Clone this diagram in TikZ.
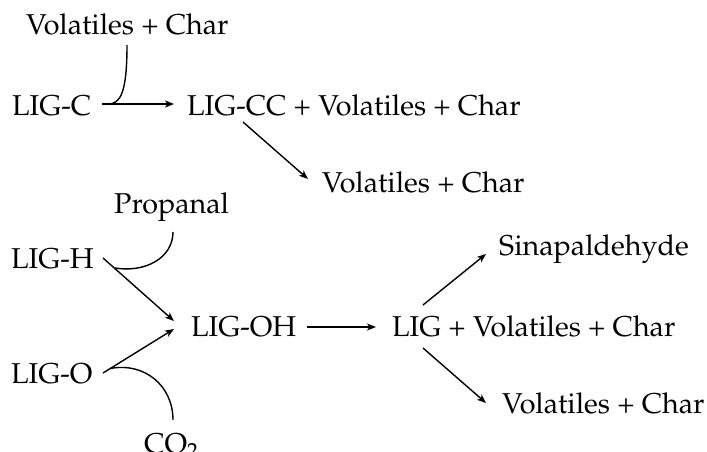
\documentclass[tikz,border=0pt]{standalone}
\usepackage[T1]{fontenc}
\usepackage{mathpazo}
\usetikzlibrary{arrows.meta}
\tikzset{
  species/.style={anchor=base west, inner sep=0pt, font=\fontsize{28.7}{34}\selectfont},
  rxn/.style={line width=1.4pt, -{Stealth[length=9pt,width=7pt,inset=2.5pt]}},
  side/.style={line width=1.4pt},
}
\begin{document}
\begin{tikzpicture}[x=1pt,y=-1pt]
\useasboundingbox (0,0) rectangle (707,452);

% upper pathway
\node[species] (vc1) at (26,35) {Volatiles + Char};
\node[species] (ligc) at (12,115) {LIG-C};
\node[species] (ligcc) at (187,115) {LIG-CC + Volatiles + Char};
\node[species] (vc2) at (322,192) {Volatiles + Char};

\coordinate (c1s) at (102,104);
\coordinate (c1e) at (174,104);
\coordinate (c1j) at (108,104);
\coordinate (vc1b) at (127,45);
\coordinate (c2s) at (243,122);
\coordinate (c2e) at (308,179);

\draw[rxn] (c1s) -- (c1e);
\draw[side] (vc1b) .. controls (127,94) and (120,104) .. (c1j);
\draw[rxn] (c2s) -- (c2e);

% lower pathway
\node[species] (prop) at (114,213) {Propanal};
\node[species] (ligh) at (11,268) {LIG-H};
\node[species] (ligoh) at (191,336) {LIG-OH};
\node[species] (ligo) at (11,383) {LIG-O};
\node[species] (co2) at (144,453) {CO$_2$};
\node[species] (lig) at (392,336) {LIG + Volatiles + Char};
\node[species] (sin) at (499,255) {Sinapaldehyde};
\node[species] (vc3) at (502,413) {Volatiles + Char};

\coordinate (hs) at (103,258);
\coordinate (he) at (174,321);
\coordinate (hj) at (115,268);
\coordinate (propb) at (173,232);
\coordinate (os) at (103,373);
\coordinate (oe) at (174,329);
\coordinate (oj) at (110,368.5);
\coordinate (co2t) at (173,420);
\coordinate (ohs) at (307,327);
\coordinate (ohe) at (376,327);
\coordinate (us) at (423,305);
\coordinate (ue) at (486,254);
\coordinate (ds) at (423,348);
\coordinate (de) at (486,403);

\draw[rxn] (hs) -- (he);
\draw[side] (propb) .. controls (173,258) and (145,273) .. (hj);
\draw[rxn] (os) -- (oe);
\draw[side] (co2t) .. controls (173,386) and (145,362) .. (oj);
\draw[rxn] (ohs) -- (ohe);
\draw[rxn] (us) -- (ue);
\draw[rxn] (ds) -- (de);
\end{tikzpicture}
\end{document}
